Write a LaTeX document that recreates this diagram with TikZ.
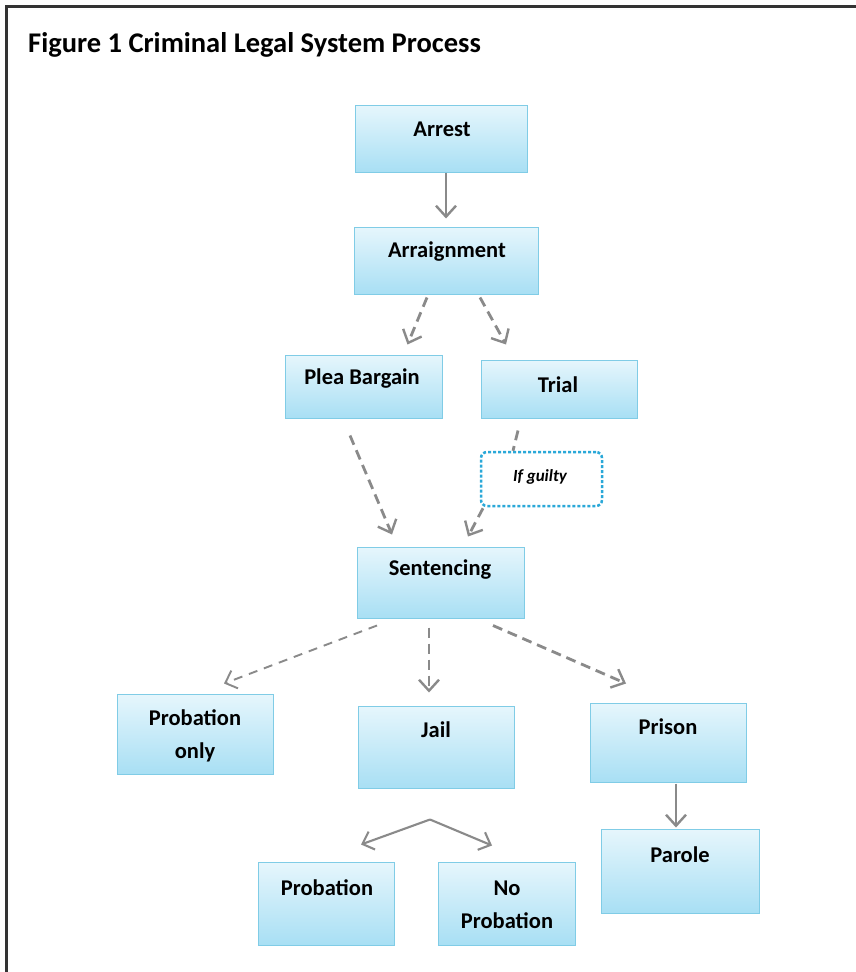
\documentclass[tikz,border=0pt]{standalone}
\usepackage{fontspec}
\setmainfont{Carlito}
\usetikzlibrary{arrows.meta}
\definecolor{boxtop}{HTML}{E6F6FC}
\definecolor{boxbot}{HTML}{A8DFF4}
\definecolor{boxline}{HTML}{80CCE6}
\definecolor{arrowgrey}{HTML}{8A8A8A}
\definecolor{guiltyline}{HTML}{2AA8D8}
\definecolor{framecol}{HTML}{333333}
\tikzset{
  stagebox/.style={rectangle, draw=boxline, line width=1pt, top color=boxtop, bottom color=boxbot, inner sep=0pt},
  stagetext/.style={font=\fontsize{22.5}{33}\selectfont\bfseries, align=center, inner sep=0pt, text=black},
  guiltybox/.style={rectangle, rounded corners=6pt, draw=guiltyline, line width=2.5pt, densely dashed, fill=white, inner sep=0pt},
  flowarrow/.style={draw=arrowgrey, line width=2.8pt, -{Straight Barb[length=11pt,width=20pt,line width=2.4pt]}},
  dashedflow/.style={flowarrow, dash pattern=on 10pt off 6pt},
  thinflow/.style={draw=arrowgrey, line width=1.9pt, dash pattern=on 9pt off 7pt, -{Straight Barb[length=10pt,width=19pt,line width=1.9pt]}},
  splitflow/.style={draw=arrowgrey, line width=2.1pt, -{Straight Barb[length=10pt,width=19pt,line width=2.1pt]}}
}
\begin{document}
\begin{tikzpicture}[x=1pt,y=-1pt]
\useasboundingbox (0,0) rectangle (856,972);
\fill[white] (0,0) rectangle (856,972);
% frame
\draw[framecol, line width=2.6pt] (6.5,972) -- (6.5,6.5) -- (856,6.5);
% title
\node[anchor=west, font=\fontsize{28.5}{30}\selectfont\bfseries, inner sep=0pt] (title) at (28,45) {Figure 1 Criminal Legal System Process};

% boxes
\node[stagebox, minimum width=172, minimum height=67] (arrest) at (441,138.5) {};
\node[stagebox, minimum width=184, minimum height=67] (arraign) at (446,260.5) {};
\node[stagebox, minimum width=157, minimum height=63] (plea) at (363.5,386.5) {};
\node[stagebox, minimum width=156, minimum height=58] (trial) at (559,389) {};
\node[guiltybox, minimum width=121, minimum height=54] (guilty) at (541.5,479) {};
\node[stagebox, minimum width=167, minimum height=71] (sent) at (440.5,582.5) {};
\node[stagebox, minimum width=156, minimum height=80] (probonly) at (195,734) {};
\node[stagebox, minimum width=156, minimum height=82] (jail) at (436,747) {};
\node[stagebox, minimum width=156, minimum height=79] (prison) at (668,742.5) {};
\node[stagebox, minimum width=158, minimum height=84] (parole) at (680,871) {};
\node[stagebox, minimum width=136, minimum height=83] (prob) at (326,903.5) {};
\node[stagebox, minimum width=137, minimum height=83] (noprob) at (506.5,903.5) {};

% texts
\node[stagetext] (arrestT) at (442,129) {Arrest};
\node[stagetext] (arraignT) at (447,252) {Arraignment};
\node[stagetext] (pleaT) at (362,379) {Plea Bargain};
\node[stagetext] (trialT) at (558,385) {Trial};
\node[font=\fontsize{17}{18}\selectfont\bfseries\itshape, inner sep=0pt] (guiltyT) at (540,477) {If guilty};
\node[stagetext] (sentT) at (440,570) {Sentencing};
\node[stagetext] (probonlyT) at (195,736) {Probation\\only};
\node[stagetext] (jailT) at (436,730) {Jail};
\node[stagetext] (prisonT) at (668,727) {Prison};
\node[stagetext] (paroleT) at (680,855) {Parole};
\node[stagetext] (probT) at (327,888) {Probation};
\node[stagetext] (noprobT) at (507,905) {No\\Probation};

% connectors
\draw[flowarrow] ([xshift=5pt]arrest.south) -- ([yshift=8pt]arraign.north);
\draw[dashedflow] ([shift={(-19pt,-3pt)}]arraign.south) -- ([shift={(44pt,10pt)}]plea.north);
\draw[dashedflow] ([shift={(34pt,-3pt)}]arraign.south) -- ([shift={(-53pt,15pt)}]trial.north);
\draw[dashedflow] ([shift={(-13.5pt,-17pt)}]plea.south) -- ([shift={(-48.5pt,12pt)}]sent.north);
\draw[draw=arrowgrey, line width=2.8pt, dash pattern=on 10pt off 6pt] ([shift={(-41pt,-12pt)}]trial.south) -- ([shift={(-28.5pt,0pt)}]guilty.north);
\draw[dashedflow] ([shift={(-58.5pt,-1pt)}]guilty.south) -- ([shift={(27.5pt,10pt)}]sent.north);
\draw[thinflow] ([shift={(-63.5pt,-7pt)}]sent.south) -- ([shift={(29pt,10pt)}]probonly.north);
\draw[dashedflow] ([shift={(-11.5pt,-9pt)}]sent.south) -- ([shift={(-7pt,13pt)}]jail.north);
\draw[dashedflow] ([shift={(52.5pt,-7pt)}]sent.south) -- ([shift={(-42pt,19pt)}]prison.north);
\draw[flowarrow] ([shift={(8pt,-1pt)}]prison.south) -- ([shift={(-4pt,1pt)}]parole.north);
\coordinate (jsplit) at ([shift={(-6pt,-31pt)}]jail.south);
\draw[splitflow] (jsplit) -- ([shift={(35pt,17pt)}]prob.north);
\draw[splitflow] (jsplit) -- ([shift={(-14.5pt,16pt)}]noprob.north);
\end{tikzpicture}
\end{document}
